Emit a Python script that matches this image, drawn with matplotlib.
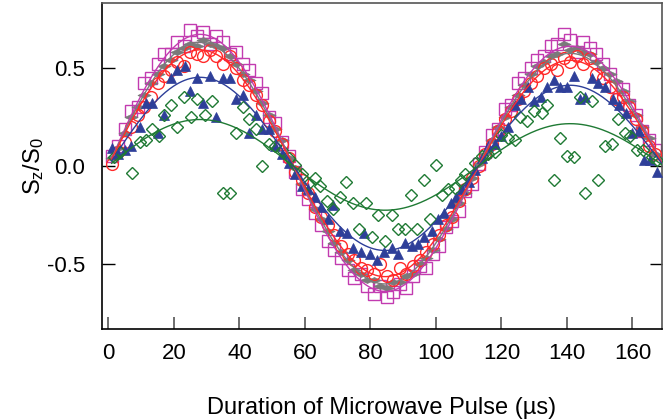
import numpy as np
import matplotlib.pyplot as plt

plt.rcParams['font.family'] = ['Liberation Sans', 'DejaVu Sans']
plt.rcParams['mathtext.default'] = 'regular'

# pulse durations (us) shared by the three upper series
t = [1, 3, 5, 7, 9, 11, 13, 15, 17, 19, 21, 23, 25, 27, 29, 31, 33, 35, 37, 39,
     41, 43, 45, 47, 49, 51, 53, 55, 57, 59, 61, 63, 65, 67, 69, 71, 73, 75, 77, 79,
     81, 83, 85, 87, 89, 91, 93, 95, 97, 99, 101, 103, 105, 107, 109, 111, 113, 115, 117, 119,
     121, 123, 125, 127, 129, 131, 133, 135, 137, 139, 141, 143, 145, 147, 149, 151, 153, 155, 157, 159,
     161, 163, 165, 167]

sq = [0.05, 0.10, 0.19, 0.28, 0.30, 0.42, 0.45, 0.52, 0.57, 0.57, 0.63, 0.61, 0.69, 0.66, 0.68, 0.62, 0.66, 0.63, 0.57, 0.58,
      0.52, 0.49, 0.42, 0.37, 0.25, 0.22, 0.12, 0.05, -0.03, -0.12, -0.17, -0.24, -0.30, -0.38, -0.43, -0.47, -0.53, -0.57, -0.55, -0.61,
      -0.65, -0.61, -0.67, -0.64, -0.60, -0.62, -0.56, -0.51, -0.52, -0.45, -0.41, -0.31, -0.28, -0.23, -0.13, -0.09, 0.01, 0.07, 0.16, 0.19,
      0.29, 0.31, 0.42, 0.45, 0.50, 0.54, 0.56, 0.61, 0.62, 0.67, 0.64, 0.58, 0.63, 0.60, 0.57, 0.52, 0.47, 0.40, 0.39, 0.31,
      0.26, 0.18, 0.13, 0.08]

dia = [0.04, 0.09, 0.17, 0.25, 0.30, 0.36, 0.42, 0.47, 0.51, 0.54, 0.58, 0.60, 0.62, 0.61, 0.64, 0.62, 0.61, 0.60, 0.56, 0.52,
       0.47, 0.44, 0.38, 0.32, 0.26, 0.19, 0.13, 0.04, -0.01, -0.09, -0.14, -0.22, -0.27, -0.33, -0.39, -0.44, -0.48, -0.53, -0.55, -0.58,
       -0.58, -0.61, -0.62, -0.59, -0.59, -0.56, -0.55, -0.50, -0.47, -0.43, -0.37, -0.32, -0.27, -0.19, -0.14, -0.06, 0.01, 0.06, 0.13, 0.20,
       0.25, 0.30, 0.36, 0.41, 0.47, 0.51, 0.53, 0.56, 0.57, 0.62, 0.59, 0.60, 0.58, 0.57, 0.53, 0.50, 0.47, 0.43, 0.38, 0.33,
       0.26, 0.20, 0.14, 0.06]

circ = [0.01, 0.07, 0.12, 0.20, 0.26, 0.30, 0.35, 0.42, 0.46, 0.49, 0.53, 0.51, 0.58, 0.57, 0.56, 0.59, 0.56, 0.52, 0.56, 0.50,
        0.44, 0.41, 0.36, 0.31, 0.23, 0.18, 0.11, 0.04, -0.03, -0.07, -0.14, -0.21, -0.26, -0.30, -0.35, -0.41, -0.45, -0.48, -0.52, -0.53,
        -0.55, -0.50, -0.56, -0.58, -0.52, -0.55, -0.51, -0.48, -0.44, -0.40, -0.35, -0.30, -0.26, -0.18, -0.12, -0.06, 0.00, 0.06, 0.11, 0.18,
        0.24, 0.28, 0.34, 0.38, 0.42, 0.46, 0.50, 0.52, 0.49, 0.55, 0.53, 0.56, 0.52, 0.55, 0.47, 0.45, 0.40, 0.34, 0.35, 0.30,
        0.24, 0.18, 0.10, 0.06]

t_tri = [1.2, 3, 5, 7, 9.5, 11.6, 13.4, 15, 17, 19, 21, 23.5, 25, 27, 29, 31, 33, 35, 37, 39,
         41, 43, 45, 47, 49, 51, 53, 55, 57, 59, 61, 63, 65, 67, 68.5, 70.6, 72.8, 74.7, 77, 78,
         80, 82, 84, 86.5, 88.4, 90.5, 92.6, 94.5, 96.5, 98.7, 100.5, 102.5, 104.5, 106, 108, 110, 112, 114, 116, 118,
         120, 122, 124, 126, 128, 130, 132, 134, 136, 138, 140, 142, 144, 145.5, 147.7, 149.5, 151.7, 154, 156, 158,
         160, 162, 163.5, 165.5, 167.5]
tri = [0.09, 0.06, 0.08, 0.10, 0.20, 0.32, 0.32, 0.17, 0.26, 0.45, 0.49, 0.51, 0.38, 0.45, 0.32, 0.46, 0.25, 0.45, 0.45, 0.34,
       0.36, 0.17, 0.26, 0.19, 0.19, 0.10, 0.06, 0.015, -0.04, -0.10, -0.12, -0.16, -0.21, -0.27, -0.20, -0.33, -0.34, -0.42, -0.44, -0.34,
       -0.45, -0.48, -0.44, -0.42, -0.45, -0.39, -0.41, -0.40, -0.36, -0.33, -0.27, -0.24, -0.19, -0.16, -0.12, -0.08, -0.02, 0.04, 0.10, 0.11,
       0.15, 0.20, 0.31, 0.34, 0.40, 0.33, 0.35, 0.40, 0.44, 0.40, 0.40, 0.46, 0.34, 0.35, 0.45, 0.42, 0.40, 0.34, 0.31, 0.27,
       0.17, 0.18, 0.03, 0.03, -0.03]

t_od = [1.8, 3.5, 7.3, 9.5, 11.6, 13.4, 15.3, 17, 19.2, 21, 23.2, 25.3, 27.2, 29.4, 31.5, 35, 37, 39, 41, 43,
        45, 47, 49, 51, 53, 55, 57, 59, 61, 63, 64.5, 66.6, 68.5, 70.6, 72.5, 74.6, 76.5, 78.6, 80.4, 82.3,
        84.4, 86.5, 88.4, 90.5, 92.4, 94.2, 96.3, 98.2, 100, 102, 103.7, 105.8, 107.5, 109, 112, 114, 116, 118, 120, 122,
        124, 125.7, 127.8, 130, 132.4, 134, 136, 138, 140, 142, 144, 145.6, 147.7, 149.6, 151.7, 153.8, 155.7, 157.8, 159.3, 161.4,
        163.3, 166, 167.6]
od = [0.045, 0.07, -0.035, 0.12, 0.13, 0.19, 0.15, 0.26, 0.31, 0.20, 0.35, 0.25, 0.34, 0.26, 0.33, -0.14, -0.14, 0.17, 0.30, 0.24,
      0.19, 0.00, 0.11, 0.10, 0.08, 0.04, 0.005, -0.04, -0.09, -0.06, -0.10, -0.18, -0.22, -0.16, -0.08, -0.19, -0.32, -0.19, -0.36, -0.25,
      -0.38, -0.25, -0.32, -0.32, -0.15, -0.32, -0.07, -0.27, 0.005, -0.15, -0.12, -0.11, -0.07, -0.04, 0.015, 0.05, 0.06, 0.07, 0.16, 0.14,
      0.13, 0.25, 0.23, 0.28, 0.27, 0.31, -0.07, 0.14, 0.05, 0.045, 0.35, -0.14, 0.33, -0.07, 0.10, 0.11, 0.24, 0.17, 0.15, 0.08,
      0.08, 0.045, 0.03]

# damped-sine fit parameters per series
fit_amp = [0.686, 0.645, 0.605, 0.462, 0.242]
fit_period = 113.0
fit_tau = 1200.0

c_sq = '#c23bb0'
c_dia = '#7a7a7a'
c_circ = '#ff2a2a'
c_tri = '#2e3f99'
c_od = '#1f7a34'
colors = [c_sq, c_dia, c_circ, c_tri, c_od]

fig = plt.figure(figsize=(6.7, 4.19), dpi=100)
ax = fig.add_axes([0.152, 0.215, 0.836, 0.778])

wide_dia = [(-1, 0), (0, 0.45), (1, 0), (0, -0.45), (-1, 0)]

ax.plot(t, sq, ls='none', marker='s', ms=8, mfc='none', mec=c_sq, mew=1.0, zorder=2)
ax.plot(t, dia, ls='none', marker=wide_dia, ms=9.5, mfc=c_dia, mec=c_dia, mew=0.5, zorder=3)
ax.plot(t, circ, ls='none', marker='o', ms=8.5, mfc='none', mec=c_circ, mew=1.0, zorder=4)
ax.plot(t_tri, tri, ls='none', marker='^', ms=7.5, mfc=c_tri, mec=c_tri, mew=0.5, zorder=5)
ax.plot(t_od, od, ls='none', marker='D', ms=6, mfc='none', mec=c_od, mew=1.0, zorder=6)

tf = np.linspace(1, 169, 400)
for a, c in zip(fit_amp, colors):
    ax.plot(tf, a*np.exp(-tf/fit_tau)*np.sin(2*np.pi*tf/fit_period), color=c, lw=1.0, zorder=7)

ax.set_xlim(-2, 169)
ax.set_ylim(-0.83, 0.83)
ax.set_xticks([0, 20, 40, 60, 80, 100, 120, 140, 160])
ax.set_yticks([-0.5, 0.0, 0.5])
ax.set_yticklabels(['-0.5', '0.0', '0.5'])
ax.tick_params(axis='x', direction='in', length=9, width=1.2, color='#555555', labelsize=16, pad=10)
ax.tick_params(axis='y', direction='in', length=9, width=1, right=True, labelsize=16, pad=12)
for s in ['top', 'right']:
    ax.spines[s].set_color('#555555')
for s in ax.spines.values():
    s.set_linewidth(1.2)

ax.set_xlabel('Duration of Microwave Pulse (\u00b5s)', fontsize=17, labelpad=24)
ax.set_ylabel('S$_z$/S$_0$', fontsize=17, labelpad=1)

fig.savefig('out.png', dpi=100)
